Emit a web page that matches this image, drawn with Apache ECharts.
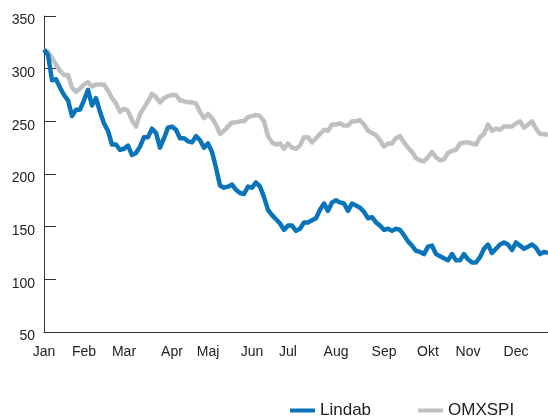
<!DOCTYPE html>
<html>
<head>
<meta charset="utf-8">
<script src="https://cdn.jsdelivr.net/npm/echarts@6/dist/echarts.min.js"></script>
<style>
html,body{margin:0;padding:0;background:#fff;}
#chart{width:548px;height:416px;}
</style>
</head>
<body>
<div id="chart"></div>
<script>
// Month labels and the trading-period index where each month label sits
var monthNames = ['Jan','Feb','Mar','Apr','Maj','Jun','Jul','Aug','Sep','Okt','Nov','Dec'];
var monthIndex = [0, 10, 20, 32, 41, 52, 61, 73, 85, 96, 106, 118];

// Lindab
var lindab = [
318,313,289,290,282,275,270,255,261,261,
270,280,265,272,259,248,241,228,228,223,
224,227,218,220,226,235,235,243,239,225,
234,244,245,242,234,234,231,230,236,232,
225,229,221,206,189,187,188,190,185,182,
181,188,187,192,188,178,166,161,157,153,
147,151,151,146,148,154,154,156,158,166,
172,165,173,175,173,172,165,172,170,168,
164,158,159,154,151,147,148,146,148,147,
142,136,132,127,126,124,131,132,124,122,
120,118,124,118,118,124,119,116,116,121,
129,133,125,129,133,135,133,128,135,132,
129,131,133,130,124,126,125
];

// OMXSPI
var omxspi = [
318,316,310,304,298,294,294,282,278,281,
285,287,283,285,285,285,279,272,267,259,
262,260,251,245,257,263,269,276,273,268,
272,274,275,275,270,269,268,268,267,259,
253,257,253,247,238,241,245,249,249,250,
250,254,255,256,255,250,236,230,228,229,
224,229,225,224,227,235,235,230,234,238,
242,241,247,247,248,246,246,250,250,251,
247,241,239,237,232,226,229,229,234,236,
230,225,221,215,213,212,216,221,216,213,
214,220,222,223,229,230,230,229,228,235,
238,247,241,243,242,245,245,245,248,250,
244,247,250,243,238,238,237
];

var categories = lindab.map(function (v, i) {
  var k = monthIndex.indexOf(i);
  return k >= 0 ? monthNames[k] : '';
});

var chart = echarts.init(document.getElementById('chart'), null, {renderer: 'canvas'});
var font = '"Liberation Sans", Arial, Helvetica, sans-serif';
chart.setOption({
  animation: false,
  backgroundColor: '#ffffff',
  grid: {left: 44, right: 0, top: 16, bottom: 84, containLabel: false},
  xAxis: {
    type: 'category',
    data: categories,
    boundaryGap: false,
    axisLine: {show: true, lineStyle: {color: '#333333', width: 1}},
    axisTick: {show: false},
    splitLine: {show: false},
    axisLabel: {
      interval: function (idx, val) { return val !== ''; },
      color: '#222222',
      fontSize: 14,
      fontFamily: font,
      margin: 13
    }
  },
  yAxis: {
    type: 'value',
    min: 50,
    max: 350,
    interval: 50,
    axisLine: {show: true, lineStyle: {color: '#333333', width: 1}},
    axisTick: {show: true, inside: true, length: 12, lineStyle: {color: '#333333', width: 1}},
    splitLine: {show: false},
    axisLabel: {
      formatter: '{a|{value}}',
      margin: 9,
      rich: {
        a: {color: '#222222', fontSize: 14, fontFamily: font, padding: [9, 0, 0, 0]}
      }
    }
  },
  legend: {
    data: ['Lindab', 'OMXSPI'],
    left: 285,
    top: 397,
    icon: 'rect',
    itemWidth: 25,
    itemHeight: 4,
    itemGap: 47,
    textStyle: {color: '#222222', fontSize: 17, fontFamily: font}
  },
  series: [
    {
      name: 'OMXSPI',
      type: 'line',
      data: omxspi,
      showSymbol: false,
      symbol: 'none',
      lineStyle: {color: '#c0c0c3', width: 4.5, join: 'round'},
      itemStyle: {color: '#c0c0c3'},
      z: 2
    },
    {
      name: 'Lindab',
      type: 'line',
      data: lindab,
      showSymbol: false,
      symbol: 'none',
      lineStyle: {color: '#0a74bb', width: 4.5, join: 'round'},
      itemStyle: {color: '#0a74bb'},
      z: 3
    }
  ]
});
</script>
</body>
</html>
